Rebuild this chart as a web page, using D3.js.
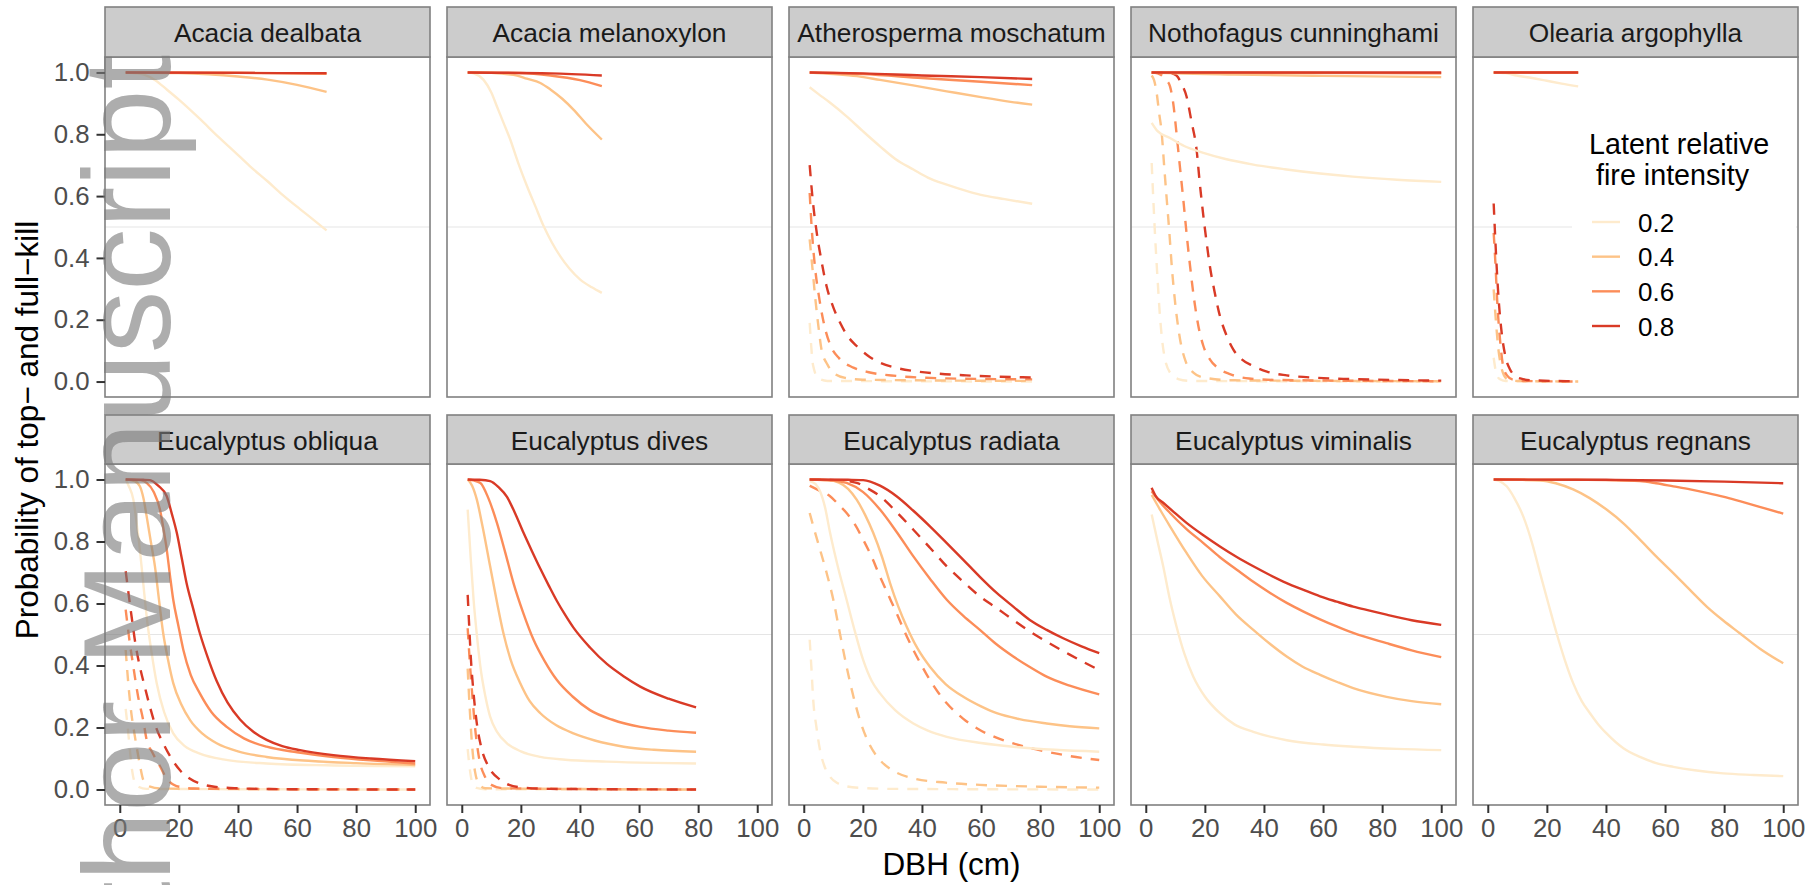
<!DOCTYPE html>
<html><head><meta charset="utf-8">
<script src="https://cdn.jsdelivr.net/npm/d3@7"></script>
<style>body{margin:0;background:#fff}svg{display:block;font-family:"Liberation Sans",Arial,Helvetica,sans-serif}</style>
</head><body>
<script>
// ---------------- DATA ----------------
const species = ["Acacia dealbata","Acacia melanoxylon","Atherosperma moschatum","Nothofagus cunninghami","Olearia argophylla",
                 "Eucalyptus obliqua","Eucalyptus dives","Eucalyptus radiata","Eucalyptus viminalis","Eucalyptus regnans"];
const intensities = ["0.2","0.4","0.6","0.8"];
const xTicks = [0,20,40,60,80,100];
const yTicks = [0,0.2,0.4,0.6,0.8,1.0];

// each species: [0.2, 0.4, 0.6, 0.8] series of [DBH, probability]
const dealbataTop = [
  [[2,1.0],[6,0.997],[8.2,0.993],[12,0.975],[16,0.944],[20,0.912],[27.4,0.847],[33,0.795],[38.7,0.745],[44,0.697],[50,0.648],[55,0.605],[61,0.558],[66,0.52],[70,0.489]],
  [[2,1],[20,0.998],[30,0.994],[40,0.987],[50,0.977],[60,0.96],[70,0.937]],
  [[2,1],[40,0.999],[70,0.996]],
  [[2,1],[70,0.998]]];
const dealbataFull = [[],[],[],[]];

const melanoxylonTop = [
  [[2,1],[4,0.997],[7.4,0.976],[10,0.935],[11.9,0.89],[14,0.84],[16.4,0.783],[19,0.71],[22.1,0.632],[25,0.565],[27.7,0.503],[30.5,0.45],[33.3,0.406],[36.5,0.365],[40.1,0.33],[44,0.305],[47.4,0.287]],
  [[2,1],[10,0.999],[15,0.995],[18.7,0.99],[22,0.98],[26.6,0.966],[30,0.945],[34,0.915],[37.8,0.88],[42,0.835],[47.4,0.783]],
  [[2,1],[20,0.998],[30,0.99],[40,0.975],[47.4,0.956]],
  [[2,1],[30,0.997],[47.4,0.99]]];
const melanoxylonFull = [[],[],[],[]];

const atherospermaTop = [
  [[2,0.952],[5,0.93],[8.5,0.905],[14.5,0.858],[20,0.81],[25.8,0.761],[31,0.72],[37.1,0.686],[42,0.66],[48.4,0.637],[55,0.617],[59.6,0.605],[68,0.59],[77.3,0.575]],
  [[2,1.0],[10,0.995],[18,0.988],[25.8,0.976],[37,0.958],[48.4,0.939],[60,0.92],[70,0.905],[77.3,0.896]],
  [[2,1],[20,0.995],[40,0.982],[60,0.97],[77.3,0.959]],
  [[2,1],[20,0.997],[40,0.99],[60,0.985],[77.3,0.979]]];
const atherospermaFull = [
  [[2,0.19],[3.2,0.05],[5,0.01],[8,0.002],[77.3,0.0]],
  [[2,0.46],[3,0.36],[4,0.26],[5,0.175],[6,0.104],[8,0.055],[10,0.029],[14,0.012],[20,0.006],[77.3,0.002]],
  [[2,0.61],[2.8,0.48],[3.8,0.37],[5.3,0.266],[7,0.18],[8.9,0.12],[12,0.075],[16.8,0.045],[22,0.03],[31.5,0.018],[45,0.011],[77.3,0.007]],
  [[2,0.70],[3,0.59],[4.4,0.481],[6,0.39],[7.7,0.309],[10,0.24],[12.3,0.19],[15,0.145],[17.9,0.115],[21.5,0.085],[25.8,0.061],[31,0.045],[37.1,0.034],[45,0.026],[55,0.02],[65,0.016],[77.3,0.013]]];

const nothofagusTop = [
  [[2,0.837],[4,0.81],[8.2,0.788],[13,0.762],[19.5,0.74],[27,0.72],[36.4,0.702],[47,0.687],[59,0.673],[70,0.663],[85,0.653],[100,0.646]],
  [[2,1],[10,0.997],[30,0.993],[60,0.989],[100,0.985]],
  [[2,1],[50,0.999],[100,0.997]],
  [[2,1],[100,1]]];
const nothofagusFull = [
  [[2,0.707],[3.1,0.481],[4,0.33],[4.8,0.212],[6,0.1],[8.2,0.029],[11,0.008],[15,0.002],[100,0]],
  [[2,0.99],[2.8,0.975],[3.7,0.933],[4.5,0.87],[5.4,0.804],[6.2,0.7],[7.1,0.589],[8,0.48],[8.8,0.373],[10,0.25],[11.6,0.137],[13.5,0.065],[16.1,0.029],[20,0.012],[30,0.004],[100,0.001]],
  [[2,1],[4,0.997],[5.5,0.99],[7,0.975],[8.2,0.955],[9.3,0.9],[10.4,0.804],[11.5,0.7],[12.7,0.589],[13.8,0.48],[15,0.373],[16.3,0.27],[17.8,0.18],[19.5,0.115],[21.7,0.072],[25,0.04],[28.5,0.024],[35,0.01],[45,0.005],[100,0.001]],
  [[2,1],[8,0.998],[10.4,0.99],[12,0.965],[13.8,0.922],[15.5,0.84],[17.2,0.75],[18.3,0.64],[19.5,0.535],[20.6,0.45],[21.7,0.373],[23.3,0.29],[25.1,0.212],[27.3,0.15],[29.6,0.104],[32.5,0.072],[36.4,0.05],[41,0.032],[47.7,0.02],[58,0.012],[70,0.008],[85,0.005],[100,0.003]]];

const oleariaTop = [
  [[2,1],[6,0.998],[9.8,0.99],[15,0.982],[20,0.973],[25,0.964],[30.6,0.955]],
  [[2,1],[30.6,0.999]],
  [[2,1],[30.6,1]],
  [[2,1],[30.6,1]]];
const oleariaFull = [
  [[2,0.077],[2.8,0.03],[4,0.008],[6,0.002],[30.6,0]],
  [[2,0.298],[2.8,0.19],[3.6,0.104],[4.5,0.05],[5.5,0.02],[7,0.006],[10,0.002],[30.6,0]],
  [[2,0.481],[2.6,0.38],[3.2,0.26],[4.2,0.13],[5.2,0.05],[6.5,0.02],[8.5,0.006],[12,0.002],[30.6,0]],
  [[2,0.576],[2.5,0.47],[3,0.373],[3.8,0.25],[4.7,0.158],[6,0.08],[7.5,0.04],[9,0.02],[11,0.01],[15,0.004],[30.6,0.001]]];

const obliquaTop = [
  [[2,1.0],[3,0.98],[4.6,0.935],[5.7,0.86],[6.8,0.774],[8,0.66],[9.1,0.558],[10.8,0.44],[12.5,0.343],[15,0.25],[18.1,0.181],[22,0.14],[27.1,0.116],[35,0.097],[49.7,0.084],[70,0.078],[100,0.075]],
  [[2,1],[5,0.995],[6.8,0.978],[8,0.94],[9.1,0.881],[10.5,0.8],[11.9,0.72],[13.3,0.61],[14.7,0.504],[16.3,0.42],[18.1,0.343],[20.8,0.275],[23.8,0.224],[28,0.18],[32.8,0.149],[40,0.123],[49.7,0.105],[65,0.092],[80,0.085],[100,0.079]],
  [[2,1],[7,0.998],[9.1,0.989],[11.5,0.96],[13.6,0.903],[14.8,0.84],[15.9,0.774],[17,0.69],[18.1,0.612],[19.8,0.53],[21.5,0.451],[24,0.37],[27.1,0.31],[31,0.25],[36.2,0.202],[42,0.165],[49.7,0.138],[60,0.12],[72.3,0.105],[85,0.094],[100,0.084]],
  [[2,1],[8,0.999],[10.2,0.998],[13,0.98],[15.9,0.946],[17.6,0.89],[19.3,0.828],[21,0.745],[22.6,0.666],[24.8,0.585],[27.1,0.504],[30,0.42],[32.8,0.35],[36.5,0.28],[40.7,0.226],[45,0.188],[49.7,0.16],[55,0.14],[61,0.127],[72.3,0.111],[85,0.1],[100,0.0915]]];
const obliquaFull = [
  [[2,0.26],[2.8,0.19],[3.5,0.12],[4.2,0.06],[5,0.025],[6.5,0.008],[9,0.002],[100,0]],
  [[2,0.45],[3,0.33],[4,0.24],[4.8,0.19],[5.7,0.138],[6.8,0.08],[8,0.03],[10,0.01],[14,0.003],[100,0]],
  [[2,0.58],[3.3,0.48],[4.6,0.396],[6.2,0.3],[8,0.22],[9.1,0.16],[11,0.12],[13.6,0.075],[15.9,0.035],[19,0.012],[25,0.003],[100,0]],
  [[2,0.704],[4,0.558],[5.3,0.47],[6.8,0.396],[8.5,0.33],[10.2,0.267],[12.3,0.2],[14.7,0.149],[17.5,0.1],[20.4,0.062],[23.5,0.036],[27.1,0.019],[32,0.009],[40,0.004],[55,0.001],[100,0]]];

const divesTop = [
  [[2,0.903],[3,0.75],[4,0.612],[5.2,0.49],[6.3,0.396],[8,0.3],[9.6,0.235],[12,0.185],[15.3,0.149],[20,0.123],[26.6,0.105],[35,0.096],[49,0.09],[65,0.086],[79.3,0.084]],
  [[2,1],[3.5,0.98],[5.1,0.935],[7,0.85],[9.6,0.72],[12,0.6],[14.1,0.504],[16.5,0.42],[19.8,0.343],[23,0.285],[26.6,0.246],[32,0.207],[37.8,0.181],[45,0.158],[54.8,0.138],[65,0.128],[79.3,0.122]],
  [[2,1],[4,0.997],[6.3,0.989],[9,0.94],[11.9,0.86],[14.7,0.765],[17.5,0.666],[20.8,0.57],[24.3,0.483],[28,0.415],[32.2,0.353],[37.5,0.3],[43.4,0.256],[51,0.225],[60.4,0.202],[70,0.19],[79.3,0.183]],
  [[2,1],[6,0.999],[9.6,0.995],[12.5,0.975],[15.3,0.944],[18,0.892],[20.9,0.828],[23.8,0.768],[26.6,0.712],[29.5,0.657],[32.2,0.608],[35,0.563],[37.8,0.522],[43.4,0.458],[49.1,0.405],[55,0.364],[60.4,0.332],[70,0.293],[79.3,0.265]]];
const divesFull = [
  [[2,0.13],[2.8,0.06],[3.6,0.02],[5,0.005],[8,0.001],[79.3,0]],
  [[2,0.39],[2.7,0.26],[3.4,0.154],[4.5,0.057],[6,0.015],[8,0.004],[79.3,0]],
  [[2,0.52],[2.8,0.4],[3.6,0.3],[4.5,0.2],[5.7,0.11],[7.9,0.04],[10,0.015],[14,0.004],[79.3,0]],
  [[2,0.628],[2.5,0.53],[3.1,0.42],[3.9,0.32],[5,0.22],[6.7,0.132],[9.1,0.073],[12.9,0.032],[16,0.015],[20,0.007],[30,0.002],[79.3,0]]];

const radiataTop = [
  [[2,0.995],[4,0.985],[5.5,0.962],[7.2,0.91],[8.9,0.828],[11.5,0.72],[14.5,0.612],[17.3,0.51],[20.1,0.418],[23,0.35],[25.8,0.31],[31,0.255],[37.1,0.213],[42,0.19],[48.4,0.17],[60,0.15],[70.9,0.138],[85,0.128],[100,0.122]],
  [[2,1],[8,0.998],[11.9,0.99],[15,0.97],[17.9,0.935],[20.8,0.885],[23.5,0.828],[26.5,0.75],[29.2,0.666],[32,0.59],[34.8,0.526],[38.5,0.455],[42.7,0.396],[48,0.34],[54,0.299],[60,0.268],[65.3,0.246],[73,0.227],[82.2,0.213],[90,0.204],[100,0.197]],
  [[2,1],[10,0.997],[14.5,0.989],[20,0.96],[25.8,0.903],[31.5,0.83],[37.1,0.752],[42.7,0.68],[48.4,0.612],[54,0.56],[59.6,0.515],[65,0.47],[70.9,0.429],[76.5,0.395],[82.2,0.364],[90,0.335],[100,0.307]],
  [[2,1],[15,0.999],[20.1,0.998],[25.8,0.98],[31.4,0.946],[37,0.9],[42.7,0.849],[48.4,0.795],[54,0.741],[59.6,0.686],[65.3,0.634],[70.9,0.59],[76.5,0.547],[82.2,0.515],[87.8,0.488],[94,0.462],[100,0.44]]];
const radiataFull = [
  [[2,0.483],[2.6,0.39],[3.2,0.289],[4.3,0.2],[5.5,0.127],[7,0.075],[8.9,0.041],[11.5,0.02],[14.5,0.01],[20,0.005],[30,0.002],[100,0]],
  [[2,0.892],[3.5,0.84],[5.5,0.774],[7.7,0.7],[10,0.612],[12.3,0.5],[14.5,0.396],[16.8,0.3],[19,0.224],[22,0.15],[25.8,0.095],[30,0.062],[37.1,0.036],[48,0.022],[59.6,0.015],[80,0.009],[100,0.006]],
  [[2,0.98],[5.5,0.963],[8.9,0.946],[11.7,0.92],[14.5,0.892],[17.3,0.855],[20.1,0.806],[23,0.75],[25.8,0.687],[28.6,0.628],[31.4,0.569],[34.2,0.508],[37.1,0.45],[40,0.398],[42.7,0.353],[45.5,0.313],[48.4,0.278],[54,0.228],[59.6,0.192],[65,0.168],[70.9,0.149],[76.5,0.134],[82.2,0.122],[90,0.108],[100,0.095]],
  [[2,1],[12,0.997],[17.9,0.989],[21.5,0.972],[25.8,0.946],[31.4,0.895],[37.1,0.838],[42.7,0.78],[48.4,0.72],[54,0.67],[59.6,0.623],[65.3,0.585],[70.9,0.547],[76.5,0.51],[82.2,0.477],[90,0.435],[100,0.385]]];

const viminalisTop = [
  [[2,0.887],[4,0.8],[5.9,0.72],[8,0.62],[10.4,0.526],[13,0.44],[16.1,0.364],[20,0.3],[25.1,0.246],[30,0.21],[36.4,0.186],[47.7,0.159],[60,0.145],[70.2,0.138],[85,0.131],[100,0.127]],
  [[2,0.95],[5,0.9],[8.2,0.849],[13.8,0.763],[19,0.69],[25.1,0.623],[30.5,0.565],[36.4,0.515],[42,0.47],[47.7,0.429],[53,0.397],[59,0.37],[65,0.346],[70.2,0.327],[81.5,0.299],[90,0.285],[100,0.275]],
  [[2,0.962],[5,0.925],[8.2,0.892],[13.8,0.84],[19.5,0.795],[25,0.75],[30.8,0.709],[36.4,0.67],[42.1,0.634],[47.7,0.602],[53.4,0.574],[59,0.549],[64.6,0.526],[70.2,0.505],[81.5,0.472],[90,0.449],[100,0.427]],
  [[2,0.973],[3.5,0.945],[5.9,0.925],[9.5,0.895],[13.8,0.86],[19.5,0.82],[25.1,0.784],[30.8,0.75],[36.4,0.72],[42,0.692],[47.7,0.666],[53.4,0.644],[59,0.623],[64.6,0.606],[70.2,0.59],[75.8,0.577],[81.5,0.564],[90,0.546],[100,0.531]]];
const viminalisFull = [[],[],[],[]];

const regnansTop = [
  [[2,1],[4,0.995],[6.4,0.978],[9,0.94],[12,0.881],[15,0.795],[17.7,0.698],[20.5,0.6],[23.3,0.504],[26,0.42],[28.9,0.343],[31.8,0.285],[34.6,0.246],[37.4,0.21],[40.2,0.181],[45.9,0.133],[51.5,0.105],[57,0.085],[62.8,0.073],[70,0.062],[79.7,0.052],[90,0.047],[100,0.043]],
  [[2,1],[10,0.999],[17.7,0.997],[23,0.988],[28.9,0.968],[34.5,0.94],[40.2,0.903],[46,0.858],[51.5,0.806],[57,0.752],[62.8,0.698],[68.5,0.643],[74.1,0.59],[79.7,0.545],[85.3,0.504],[92,0.455],[100,0.407]],
  [[2,1],[30,0.999],[40,0.998],[51.5,0.995],[57,0.988],[62.8,0.978],[68.5,0.968],[74.1,0.957],[80,0.944],[85.3,0.93],[92,0.912],[100,0.89]],
  [[2,1],[40,0.999],[60,0.997],[80,0.993],[100,0.988]]];
const regnansFull = [[],[],[],[]];

const topKill  = [dealbataTop, melanoxylonTop, atherospermaTop, nothofagusTop, oleariaTop, obliquaTop, divesTop, radiataTop, viminalisTop, regnansTop];
const fullKill = [dealbataFull, melanoxylonFull, atherospermaFull, nothofagusFull, oleariaFull, obliquaFull, divesFull, radiataFull, viminalisFull, regnansFull];

// ---------------- STYLE / LAYOUT ----------------
const colours = ["#FEEBCD","#FDC387","#FC8D59","#D93A26"];
const W = 1818, H = 885;
const panelLefts = [105, 447, 789, 1131, 1473];
const panelW = 325;
const rows = [{stripTop: 7, top: 57, bottom: 397}, {stripTop: 415, top: 464, bottom: 805}];
const borderCol = "#808080";

const svg = d3.select("body").append("svg").attr("width", W).attr("height", H);
const defs = svg.append("defs");

species.forEach((sp, i) => {
  const r = rows[Math.floor(i / 5)], c = i % 5;
  const L = panelLefts[c];
  const x = d3.scaleLinear().domain([-5, 105]).range([L, L + panelW]);
  const y = d3.scaleLinear().domain([-0.05, 1.05]).range([r.bottom, r.top]);
  const g = svg.append("g");
  defs.append("clipPath").attr("id", "clip" + i).append("rect")
    .attr("x", L).attr("y", r.top).attr("width", panelW).attr("height", r.bottom - r.top);
  g.append("rect").attr("x", L).attr("y", r.top).attr("width", panelW).attr("height", r.bottom - r.top).attr("fill", "#fff");
  const pg = g.append("g").attr("clip-path", "url(#clip" + i + ")");
  pg.append("line").attr("x1", L).attr("x2", L + panelW).attr("y1", y(0.5)).attr("y2", y(0.5))
    .attr("stroke", "#e5e5e5").attr("stroke-width", 1.1);
  const line = d3.line().x(d => x(d[0])).y(d => y(d[1])).curve(d3.curveMonotoneX);
  for (let k = 0; k < 4; k++) {
    const fd = fullKill[i][k];
    if (fd.length) pg.append("path").attr("d", line(fd)).attr("fill", "none").attr("stroke", colours[k])
      .attr("stroke-width", 2.4).attr("stroke-dasharray", "11,9");
  }
  for (let k = 0; k < 4; k++) {
    const td = topKill[i][k];
    if (td.length) pg.append("path").attr("d", line(td)).attr("fill", "none").attr("stroke", colours[k])
      .attr("stroke-width", 2.4);
  }
  g.append("rect").attr("x", L).attr("y", r.top).attr("width", panelW).attr("height", r.bottom - r.top)
    .attr("fill", "none").attr("stroke", borderCol).attr("stroke-width", 1.6);
  // strip
  g.append("rect").attr("x", L).attr("y", r.stripTop).attr("width", panelW).attr("height", r.top - r.stripTop)
    .attr("fill", "#cccccc").attr("stroke", borderCol).attr("stroke-width", 1.6);
  g.append("text").attr("x", L + panelW / 2).attr("y", r.stripTop + 34.5).attr("text-anchor", "middle")
    .attr("font-size", 26.3).attr("fill", "#1a1a1a").text(sp);
  // axes
  if (c === 0) {
    const ay = g.append("g").attr("transform", `translate(${L},0)`)
      .call(d3.axisLeft(y).tickValues(yTicks).tickFormat(d3.format(".1f")).tickSize(8.5).tickPadding(7));
    ay.select(".domain").remove();
    ay.selectAll("line").attr("stroke", "#333").attr("stroke-width", 2);
    ay.selectAll("text").attr("font-size", 25.8).attr("fill", "#4d4d4d").attr("font-family", null);
  }
  if (i >= 5) {
    const ax = g.append("g").attr("transform", `translate(0,${r.bottom})`)
      .call(d3.axisBottom(x).tickValues(xTicks).tickSize(8).tickPadding(6));
    ax.select(".domain").remove();
    ax.selectAll("line").attr("stroke", "#333").attr("stroke-width", 2);
    ax.selectAll("text").attr("font-size", 25.8).attr("fill", "#4d4d4d").attr("font-family", null);
  }
});

// axis titles
svg.append("text").attr("x", 951.5).attr("y", 875).attr("text-anchor", "middle")
  .attr("font-size", 31.5).attr("fill", "#000").text("DBH (cm)");
svg.append("text").attr("transform", "translate(38,430) rotate(-90)").attr("text-anchor", "middle")
  .attr("font-size", 31.5).attr("fill", "#000").text("Probability of top\u2212 and full\u2212kill");

// legend
const lg = svg.append("g");
lg.append("rect").attr("x", 1572).attr("y", 100).attr("width", 224).attr("height", 255).attr("fill", "#fff");
lg.append("text").attr("x", 1589).attr("y", 154).attr("font-size", 28.7).attr("fill", "#000").text("Latent relative");
lg.append("text").attr("x", 1596).attr("y", 185).attr("font-size", 28.7).attr("fill", "#000").text("fire intensity");
const keyY = d3.scalePoint().domain(intensities).range([222, 326]);
intensities.forEach((lab, k) => {
  lg.append("line").attr("x1", 1592).attr("x2", 1620).attr("y1", keyY(lab)).attr("y2", keyY(lab))
    .attr("stroke", colours[k]).attr("stroke-width", 2.4);
  lg.append("text").attr("x", 1638).attr("y", keyY(lab) + 9.5).attr("font-size", 26).attr("fill", "#000").text(lab);
});

// watermark
svg.append("text").attr("transform", "translate(170,1069) rotate(-90)")
  .attr("font-size", 125).attr("fill", "#7a7a7a").attr("fill-opacity", 0.62).text("Author Manuscript");
</script>
</body></html>
